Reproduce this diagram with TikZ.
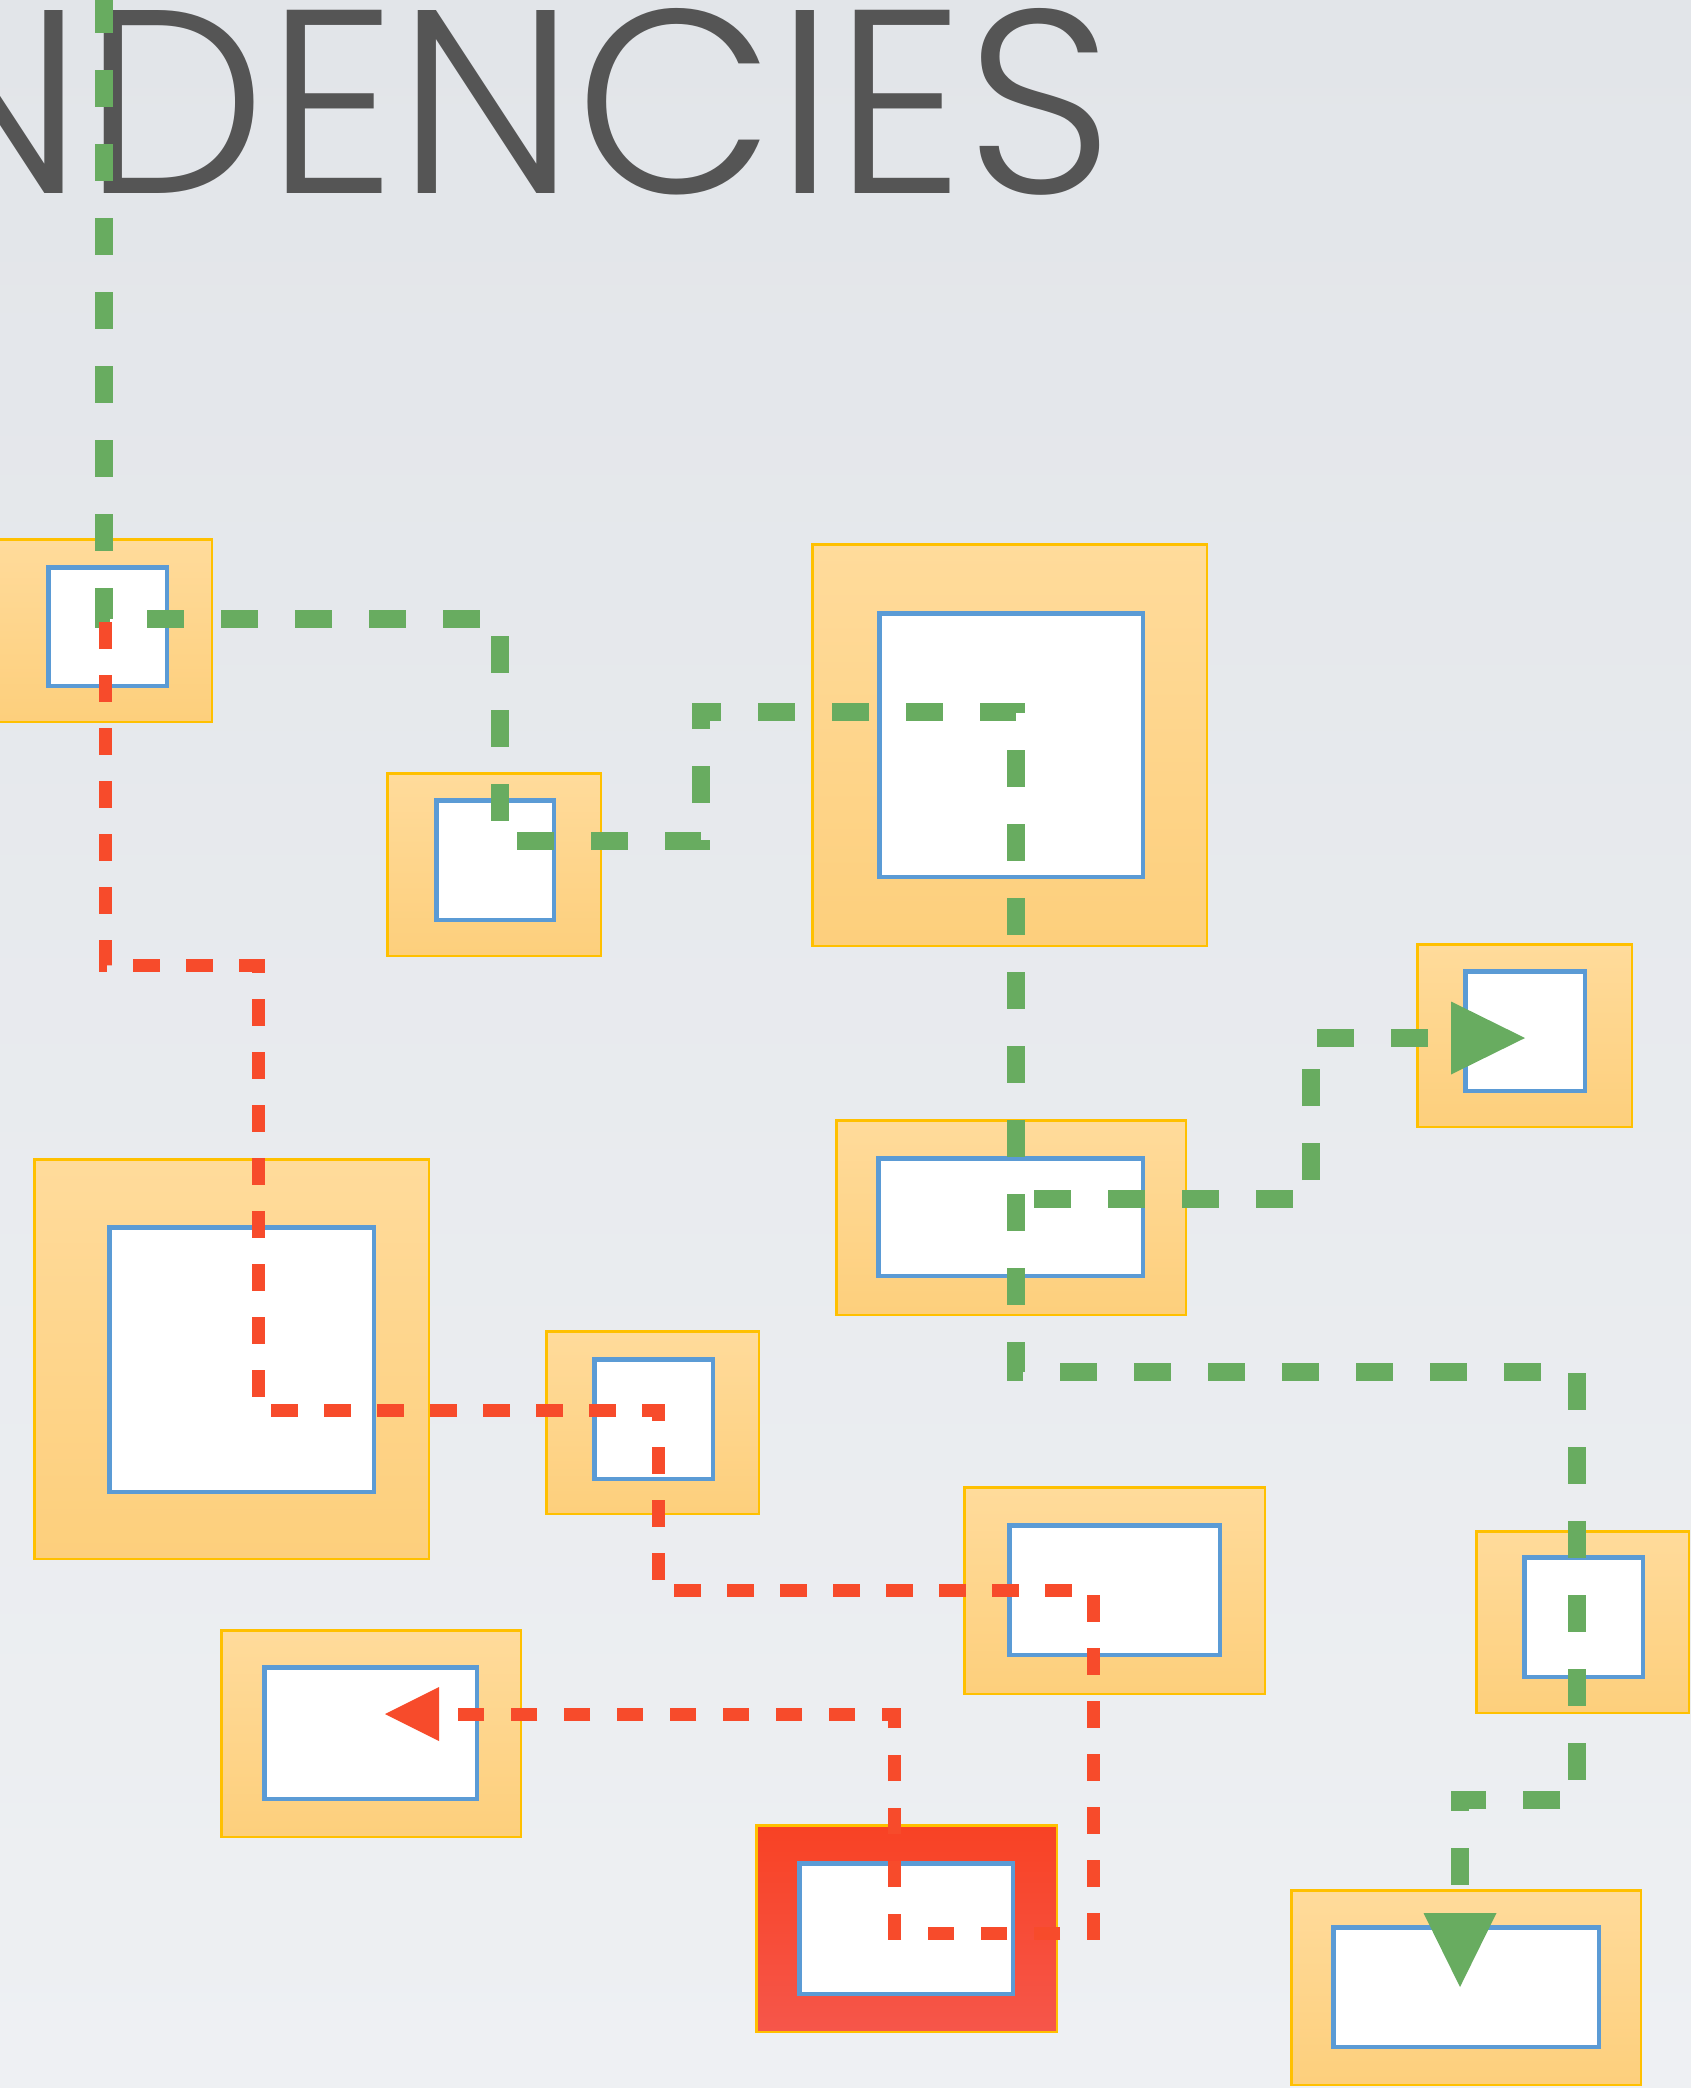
\documentclass[tikz,border=0pt]{standalone}
\usepackage{fontspec}
\usepackage{graphicx}
\usetikzlibrary{arrows.meta}
\IfFontExistsTF{Poppins Light}{\newfontfamily\titlefont{Poppins Light}}{%
 \IfFontExistsTF{Poppins-Light.otf}{\newfontfamily\titlefont{Poppins-Light.otf}}{%
  \IfFontExistsTF{Lato Light}{\newfontfamily\titlefont{Lato Light}}{%
   \IfFontExistsTF{Fira Sans Light}{\newfontfamily\titlefont{Fira Sans Light}}{%
    \newfontfamily\titlefont{Poppins}}}}}
\newlength\ttlW
\newlength\ttlH
\newsavebox\ttlboxA
\newsavebox\ttlboxB
\definecolor{bgTop}{RGB}{226,229,233}
\definecolor{bgBot}{RGB}{238,240,243}
\definecolor{orTop}{RGB}{255,219,155}
\definecolor{orBot}{RGB}{253,207,124}
\definecolor{boxorange}{RGB}{255,192,0}
\definecolor{boxblue}{RGB}{91,155,213}
\definecolor{redTop}{RGB}{248,66,36}
\definecolor{redBot}{RGB}{246,86,74}
\definecolor{glinec}{RGB}{104,172,96}
\definecolor{rlinec}{RGB}{247,75,43}
\definecolor{titlegray}{RGB}{85,85,85}
\tikzset{
  outerbox/.style={draw=boxorange, line width=2.5pt, top color=orTop, bottom color=orBot, inner sep=0pt, rectangle},
  redbox/.style={draw=boxorange, line width=2.5pt, top color=redTop, bottom color=redBot, inner sep=0pt, rectangle},
  innerbox/.style={draw=boxblue, line width=4.5pt, fill=white, inner sep=0pt, rectangle},
  greenline/.style={draw=glinec, line width=18pt, dash pattern=on 37pt off 37pt, line join=miter},
  redline/.style={draw=rlinec, line width=13pt, dash pattern=on 26.5pt off 26.5pt, line join=miter},
  greentip/.style={-{Triangle[length=74pt,width=73pt,line width=0pt]}},
  redtip/.style={-{Triangle[length=54pt,width=54pt,line width=0pt]}}
}
\AtBeginDocument{%
  \sbox\ttlboxA{\titlefont\fontsize{100}{100}\selectfont DENCIES}%
  \sbox\ttlboxB{\titlefont\fontsize{100}{100}\selectfont D}%
  \setlength\ttlW{\wd\ttlboxA}%
  \setlength\ttlH{\ht\ttlboxB}%
  \ifdim\ttlW<1pt \setlength\ttlW{470pt}\fi
  \ifdim\ttlH<1pt \setlength\ttlH{70pt}\fi
}
\begin{document}
\begin{tikzpicture}[x=1pt,y=-1pt]
\useasboundingbox (0,0) rectangle (1691,2088);
\clip (0,0) rectangle (1691,2088);
\fill[top color=bgTop, bottom color=bgBot] (0,0) rectangle (1691,2088);

\pgfmathsetmacro\ttlxs{1030/\ttlW}
\pgfmathsetmacro\ttlys{183/\ttlH}
\node[anchor=base east, text=titlegray, inner sep=0pt] (title) at (1114,193)
  {\scalebox{\ttlxs}[\ttlys]{\titlefont\fontsize{100}{100}\selectfont NDENCIES}};

% boxes: outer then inner
\node[outerbox, minimum width=213.5pt, minimum height=182.5pt] (Ao) at (105,630.5) {};
\node[innerbox, minimum width=118.5pt, minimum height=118.5pt] (Ai) at (107.5,626.5) {};

\node[outerbox, minimum width=213.5pt, minimum height=182.5pt] (Bo) at (494,864.5) {};
\node[innerbox, minimum width=117.5pt, minimum height=119.5pt] (Bi) at (495,860) {};

\node[outerbox, minimum width=394.5pt, minimum height=401.5pt] (Co) at (1009.5,745) {};
\node[innerbox, minimum width=263.5pt, minimum height=263.5pt] (Ci) at (1011,745) {};

\node[outerbox, minimum width=214.5pt, minimum height=182.5pt] (Do) at (1524.5,1035.5) {};
\node[innerbox, minimum width=119.5pt, minimum height=119.5pt] (Di) at (1525,1031) {};

\node[outerbox, minimum width=349.5pt, minimum height=194.5pt] (Eo) at (1011,1217.5) {};
\node[innerbox, minimum width=264.5pt, minimum height=117.5pt] (Ei) at (1010.5,1217) {};

\node[outerbox, minimum width=394.5pt, minimum height=399.5pt] (Fo) at (231.5,1359) {};
\node[innerbox, minimum width=264.5pt, minimum height=264.5pt] (Fi) at (241.5,1359.5) {};

\node[outerbox, minimum width=212.5pt, minimum height=182.5pt] (Go) at (652.5,1422.5) {};
\node[innerbox, minimum width=118.5pt, minimum height=119.5pt] (Gi) at (653.5,1419) {};

\node[outerbox, minimum width=300.5pt, minimum height=206.5pt] (Ho) at (1114.5,1590.5) {};
\node[innerbox, minimum width=210.5pt, minimum height=129.5pt] (Hi) at (1114.5,1590) {};

\node[outerbox, minimum width=212.5pt, minimum height=181.5pt] (Io) at (1582.5,1622) {};
\node[innerbox, minimum width=118.5pt, minimum height=119.5pt] (Ii) at (1583.5,1617) {};

\node[outerbox, minimum width=299.5pt, minimum height=206.5pt] (Jo) at (371,1733.5) {};
\node[innerbox, minimum width=212.5pt, minimum height=131.5pt] (Ji) at (370.5,1733) {};

\node[redbox, minimum width=300.5pt, minimum height=206.5pt] (Ko) at (906.5,1928.5) {};
\node[innerbox, minimum width=213.5pt, minimum height=130.5pt] (Ki) at (906,1928.5) {};

\node[outerbox, minimum width=349.5pt, minimum height=194.5pt] (Lo) at (1466,1987.5) {};
\node[innerbox, minimum width=265.5pt, minimum height=119.5pt] (Li) at (1466,1987) {};

% green connector: from above through A, B, C, E, I to L
\coordinate (gtop) at (104,0);
\coordinate (gA) at (104,619);
\coordinate (gAB) at (500,619);
\coordinate (gB) at (500,841);
\coordinate (gBC) at (701,841);
\coordinate (gBC2) at (701,712);
\coordinate (gC) at (1016,712);
\coordinate (gEI) at (1016,1372);
\coordinate (gI) at (1577,1372);
\coordinate (gIL) at (1577,1800);
\coordinate (gL) at (1460,1800);
\draw[greenline, greentip, dash phase=4pt] (gtop) -- (gA) -- (gAB) -- (gB) -- (gBC) -- (gBC2) -- (gC) -- (gEI) -- (gI) -- (gIL) -- (gL) -- (gL |- Li.center);

% green connector: E to D
\coordinate (gE) at (1016,1199);
\coordinate (gED) at (1311,1199);
\coordinate (gED2) at (1311,1038);
\draw[greenline, greentip, dash phase=56pt] (gE) -- (gED) -- (gED2) -- (gED2 -| Di.center);

% red connector: A through F, G, H, K to J
\coordinate (rA) at (105,622);
\coordinate (rAF) at (105,965);
\coordinate (rAF2) at (258,965);
\coordinate (rF) at (258,1410);
\coordinate (rG) at (658,1410);
\coordinate (rGH) at (658,1590);
\coordinate (rH) at (1093,1590);
\coordinate (rHK) at (1093,1933);
\coordinate (rK) at (894,1933);
\coordinate (rKJ) at (894,1714);
\coordinate (rJ) at (385,1714);
\draw[redline, redtip] (rA) -- (rAF) -- (rAF2) -- (rF) -- (rG) -- (rGH) -- (rH) -- (rHK) -- (rK) -- (rKJ) -- (rJ);
\end{tikzpicture}
\end{document}
